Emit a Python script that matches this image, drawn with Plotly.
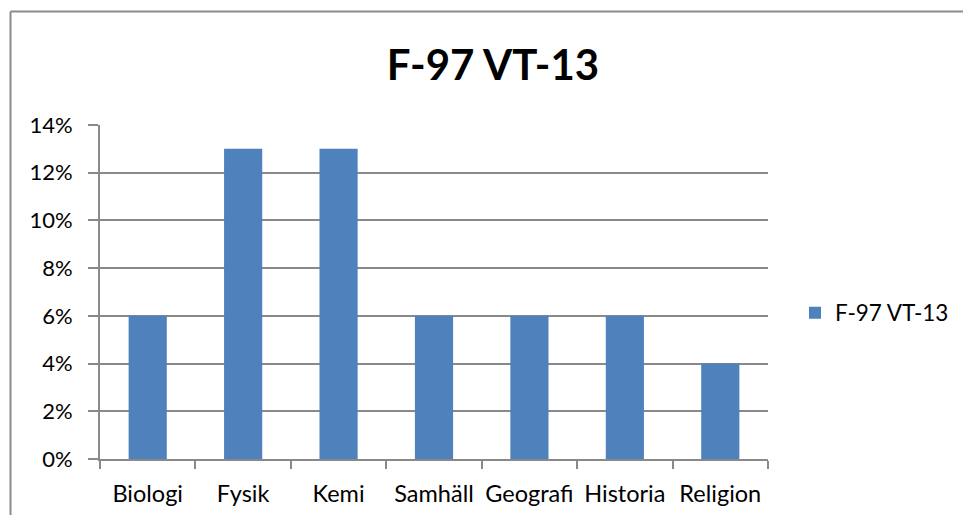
import plotly.graph_objects as go

categories = ["Biologi", "Fysik", "Kemi", "Samhäll", "Geografi", "Historia", "Religion"]
values = [0.06, 0.13, 0.13, 0.06, 0.06, 0.06, 0.04]
series_name = "F-97 VT-13"
title_text = "F-97 VT-13"

W, H = 963, 515
ML, MR, MT, MB = 100, 195, 125, 56
PW, PH = W - ML - MR, H - MT - MB

def px_x(p):
    return (p - ML) / PW

def px_y(p):
    return (H - MB - p) / PH

FONT = "Lato, Carlito, Calibri, sans-serif"
GRID = "#898989"

fig = go.Figure(go.Bar(
    x=categories, y=values, name=series_name,
    marker=dict(color="#4F81BD", line=dict(width=0)),
    showlegend=True,
))

fig.update_layout(
    width=W, height=H,
    margin=dict(l=ML, r=MR, t=MT, b=MB, autoexpand=False),
    paper_bgcolor="white", plot_bgcolor="white",
    font=dict(family=FONT, size=22, color="#000000"),
    bargap=0.6,
    title=dict(text="<b>" + title_text + "</b>", x=493 / W, xanchor="center",
               y=1 - 65 / H, yanchor="middle",
               font=dict(family=FONT, size=42, color="#000000")),
    legend=dict(x=px_x(795), xanchor="left", y=px_y(313), yanchor="middle",
                font=dict(family=FONT, size=22.5), bgcolor="rgba(0,0,0,0)"),
    xaxis=dict(showline=True, linecolor=GRID, linewidth=2,
               ticks="outside", tickson="boundaries", ticklen=8, tickwidth=2,
               tickcolor=GRID, showgrid=False, ticklabelstandoff=13,
               tickangle=0, automargin=False,
               tickfont=dict(family=FONT, size=23.5)),
    yaxis=dict(range=[0, 0.14], dtick=0.02, tickformat=".0%",
               showline=True, linecolor=GRID, linewidth=2,
               ticks="outside", ticklen=10, tickwidth=2, tickcolor=GRID,
               showgrid=True, gridcolor=GRID, gridwidth=2,
               zeroline=False, ticklabelstandoff=11, automargin=False,
               tickfont=dict(family=FONT, size=22)),
    shapes=[
        dict(type="line", xref="paper", yref="paper",
             x0=px_x(10.5), x1=px_x(975), y0=px_y(11.5), y1=px_y(11.5),
             line=dict(color="#8C8C8C", width=2)),
        dict(type="line", xref="paper", yref="paper",
             x0=px_x(10.5), x1=px_x(10.5), y0=px_y(11.5), y1=px_y(530),
             line=dict(color="#8C8C8C", width=2)),
    ],
)

fig.write_html("out.html", config={"displayModeBar": False},
               post_script="document.body.style.margin='0';document.body.style.overflow='hidden';")
